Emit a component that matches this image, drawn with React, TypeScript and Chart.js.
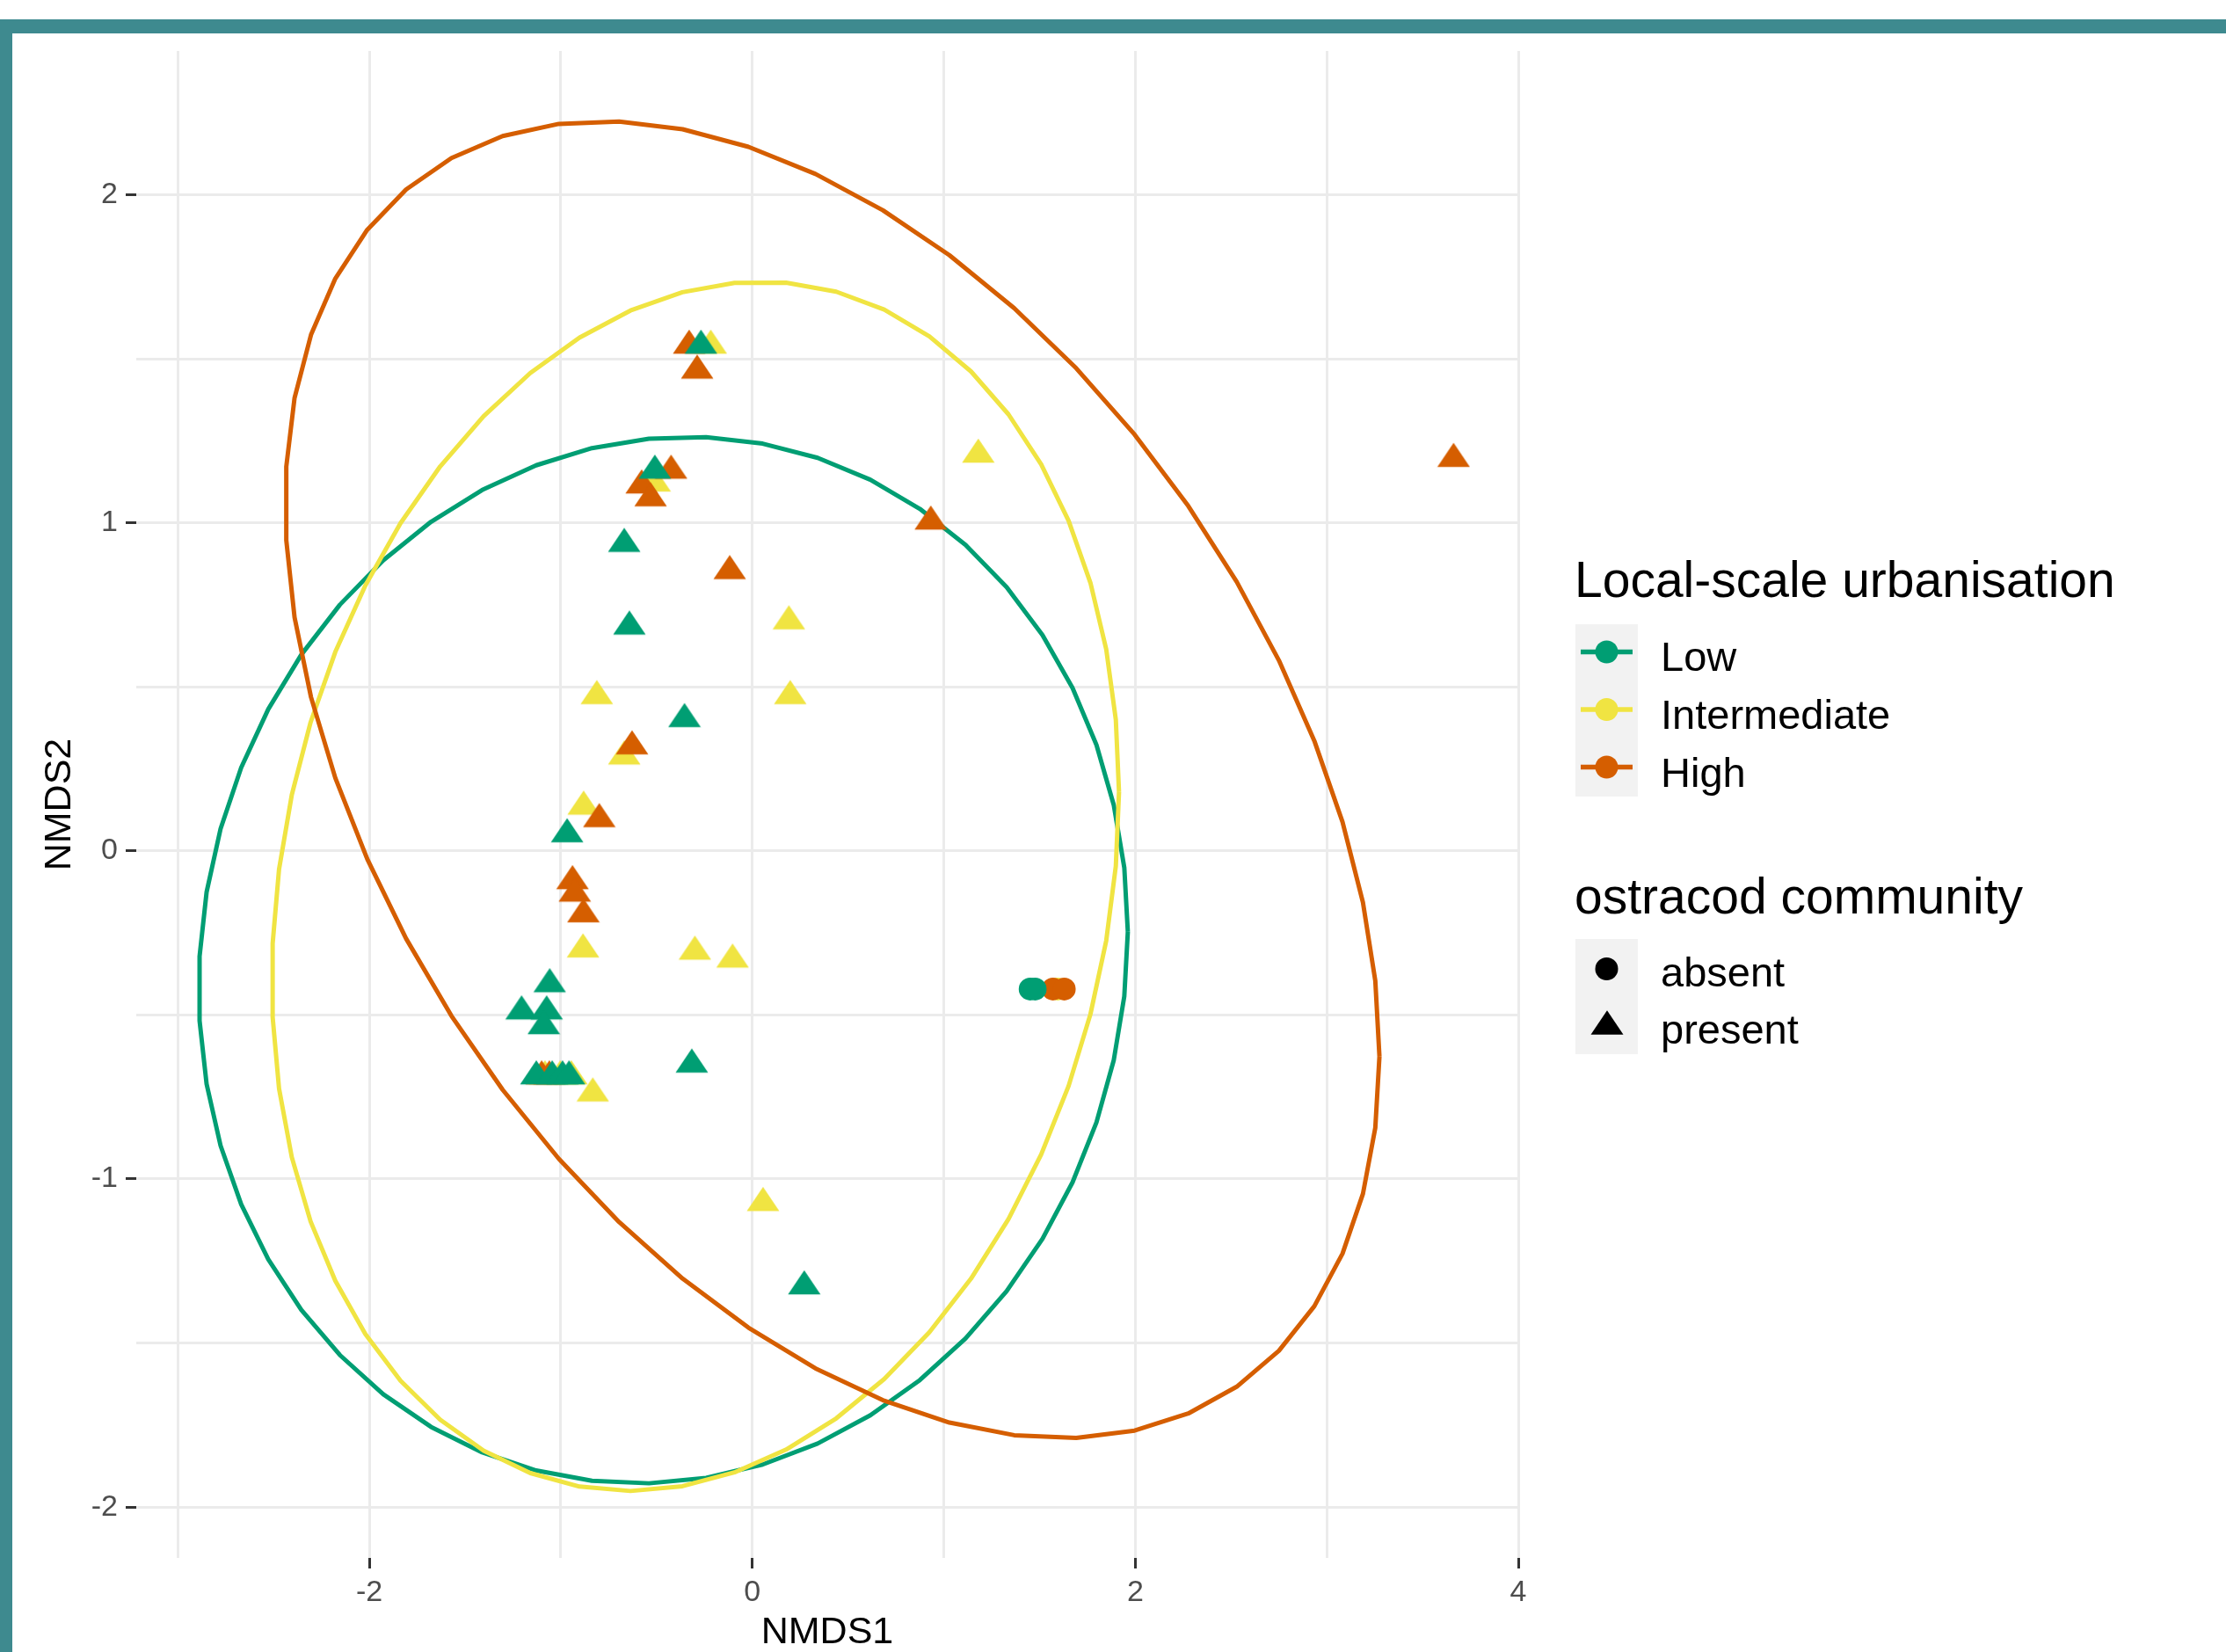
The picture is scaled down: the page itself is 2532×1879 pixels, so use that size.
import React, { useEffect, useRef } from 'react';
import { Chart, registerables } from 'chart.js';

Chart.register(...registerables);

// ---------- data ----------
const groups = ['Low', 'Intermediate', 'High'];
const groupColors = ['#009E73', '#F0E442', '#D55E00'];
const communityLevels = ['absent', 'present'];

// ostracod community present (triangles)
const lowPresentX = [-0.268, -0.509, -0.669, -0.642, -0.354, -0.967, -1.058, -1.205, -1.074, -1.089, -0.316, -1.128, -1.045, -0.991, -0.957, 0.271];
const lowPresentY = [1.54, 1.159, 0.936, 0.684, 0.402, 0.051, -0.406, -0.489, -0.489, -0.534, -0.651, -0.687, -0.687, -0.687, -0.687, -1.327];
const intPresentX = [-0.217, -0.51, 0.191, -0.812, 0.198, -0.669, -0.881, -0.884, -0.3, -0.103, -1.083, -1.003, -0.945, -0.833, 1.18, 0.056];
const intPresentY = [1.54, 1.12, 0.7, 0.472, 0.472, 0.288, 0.135, -0.3, -0.307, -0.331, -0.687, -0.687, -0.687, -0.739, 1.208, -1.073];
const highPresentX = [-0.33, -0.288, -0.424, -0.578, -0.531, -0.118, -0.628, -0.799, -0.939, -0.927, -0.882, -1.1, -1.06, 0.932, 3.662];
const highPresentY = [1.54, 1.464, 1.159, 1.114, 1.075, 0.853, 0.319, 0.097, -0.092, -0.13, -0.193, -0.687, -0.687, 1.004, 1.195];

// ostracod community absent (circles)
const lowAbsentX = [1.451, 1.477];
const lowAbsentY = [-0.421, -0.421];
const intAbsentX = [1.595];
const intAbsentY = [-0.421];
const highAbsentX = [1.57, 1.629];
const highAbsentY = [-0.421, -0.421];

// stat_ellipse parameters per group (centre, sd of x, sd of y, covariance)
const ellipseCenterX = [-0.465, -0.297, 0.418];
const ellipseCenterY = [-0.333, -0.108, 0.217];
const ellipseSdX = [2.426, 2.212, 2.857];
const ellipseSdY = [1.595, 1.843, 2.007];
const ellipseCovXY = [0.21, 0.635, -2.41];
const ellipseSegments = 51;

// axes
const xGridValues = [-3, -2, -1, 0, 1, 2, 3, 4];
const xTickLabels = [-2, 0, 2, 4];
const yGridValues = [-2, -1.5, -1, -0.5, 0, 0.5, 1, 1.5, 2];
const yTickLabels = [-2, -1, 0, 1, 2];
const xMin = -3.217;
const xMax = 4.0;
const yMin = -2.155;
const yMax = 2.438;

const FONT = "'Liberation Sans', Arial, Helvetica, sans-serif";
const CANVAS_W = 1760;
const CANVAS_H = 1879;

function ellipsePath(i: number) {
  // same construction as ggplot2::stat_ellipse: unit circle %*% chol(shape)
  const a = ellipseSdX[i];
  const b = ellipseCovXY[i] / a;
  const c = Math.sqrt(ellipseSdY[i] * ellipseSdY[i] - b * b);
  const pts: { x: number; y: number }[] = [];
  for (let k = 0; k <= ellipseSegments; k++) {
    const t = (2 * Math.PI * k) / ellipseSegments;
    pts.push({ x: ellipseCenterX[i] + a * Math.cos(t), y: ellipseCenterY[i] + b * Math.cos(t) + c * Math.sin(t) });
  }
  return pts;
}

function makeTriangle(color: string) {
  const c = document.createElement('canvas');
  c.width = 38;
  c.height = 38;
  const ctx = c.getContext('2d')!;
  const w = 37;
  const h = 27.5;
  const cx = 19;
  const cy = 19;
  ctx.fillStyle = color;
  ctx.beginPath();
  ctx.moveTo(cx, cy - (2 * h) / 3);
  ctx.lineTo(cx + w / 2, cy + h / 3);
  ctx.lineTo(cx - w / 2, cy + h / 3);
  ctx.closePath();
  ctx.fill();
  return c;
}

function zip(xs: number[], ys: number[]) {
  return xs.map((x, k) => ({ x, y: ys[k] }));
}

export default function App() {
  const ref = useRef<HTMLCanvasElement>(null);

  useEffect(() => {
    document.body.style.margin = '0';
    const canvas = ref.current!;
    const tri = groupColors.map(makeTriangle);
    const presentX = [lowPresentX, intPresentX, highPresentX];
    const presentY = [lowPresentY, intPresentY, highPresentY];
    const absentX = [lowAbsentX, intAbsentX, highAbsentX];
    const absentY = [lowAbsentY, intAbsentY, highAbsentY];
    const pointOrder = [1, 3, 2];

    const datasets: any[] = [];
    groups.forEach((g, i) => {
      datasets.push({
        label: g + ' ellipse',
        data: ellipsePath(i),
        showLine: true,
        borderColor: groupColors[i],
        borderWidth: 5,
        borderJoinStyle: 'round',
        pointRadius: 0,
        fill: false,
        tension: 0,
        order: 12 - i,
      });
    });
    groups.forEach((g, i) => {
      datasets.push({
        label: g + ' present',
        data: zip(presentX[i], presentY[i]),
        showLine: false,
        pointStyle: tri[i],
        pointRadius: 13,
        order: pointOrder[i],
      });
      datasets.push({
        label: g + ' absent',
        data: zip(absentX[i], absentY[i]),
        showLine: false,
        pointStyle: 'circle',
        pointRadius: 13,
        pointBackgroundColor: groupColors[i],
        pointBorderColor: groupColors[i],
        pointBorderWidth: 0,
        order: pointOrder[i],
      });
    });

    const chart = new Chart(canvas, {
      type: 'scatter',
      data: { datasets },
      options: {
        responsive: false,
        animation: false,
        events: [],
        layout: { padding: { top: 58, right: CANVAS_W - 1727, left: 0, bottom: 0 } },
        plugins: { legend: { display: false }, tooltip: { enabled: false } },
        scales: {
          x: {
            type: 'linear',
            min: xMin,
            max: xMax,
            afterBuildTicks: (s: any) => {
              s.ticks = xGridValues.map((v) => ({ value: v }));
            },
            afterFit: (s: any) => {
              s.height = CANVAS_H - 1772;
            },
            ticks: {
              autoSkip: false,
              maxRotation: 0,
              padding: 7,
              color: '#4D4D4D',
              font: { family: FONT, size: 34 },
              callback: (v: any) => (xTickLabels.includes(Number(v)) ? String(v) : ''),
            },
            grid: {
              color: '#EBEBEB',
              lineWidth: 3,
              tickLength: 12,
              tickColor: '#333333',
              tickWidth: (ctx: any) => (ctx.tick && xTickLabels.includes(ctx.tick.value) ? 3 : 0),
            },
            border: { display: false },
            title: {
              display: true,
              text: 'NMDS1',
              color: '#000000',
              font: { family: FONT, size: 43, lineHeight: 1 },
              padding: { top: 0, bottom: 0.5 },
            },
          },
          y: {
            type: 'linear',
            min: yMin,
            max: yMax,
            afterBuildTicks: (s: any) => {
              s.ticks = yGridValues.map((v) => ({ value: v }));
            },
            afterFit: (s: any) => {
              s.width = 155;
            },
            ticks: {
              autoSkip: false,
              padding: 9,
              color: '#4D4D4D',
              font: { family: FONT, size: 34 },
              callback: (v: any) => (yTickLabels.includes(Number(v)) ? String(v) : ''),
            },
            grid: {
              color: '#EBEBEB',
              lineWidth: 3,
              tickLength: 12,
              tickColor: '#333333',
              tickWidth: (ctx: any) => (ctx.tick && yTickLabels.includes(ctx.tick.value) ? 3 : 0),
            },
            border: { display: false },
            title: {
              display: true,
              text: 'NMDS2',
              color: '#000000',
              font: { family: FONT, size: 43, lineHeight: 1.2 },
              padding: { top: 42.5, bottom: 0 },
            },
          },
        },
      } as any,
    });
    return () => chart.destroy();
  }, []);

  const labelStyle = (top: number, left: number, size: number): React.CSSProperties => ({
    position: 'absolute',
    top,
    left,
    fontFamily: FONT,
    fontSize: size,
    lineHeight: 1,
    color: '#000',
    whiteSpace: 'nowrap',
  });

  const keyRows1 = [741.5, 807, 872.5];
  const keyRows2 = [1102, 1167.5];
  const labelBase1 = [763, 828.5, 894.5];
  const labelBase2 = [1121.7, 1187];
  const TITLE = 57;
  const LAB = 47;

  return (
    <div style={{ position: 'absolute', left: 0, top: 0, width: 2532, height: 1879, background: '#fff', overflow: 'hidden' }}>
      <canvas ref={ref} width={CANVAS_W} height={CANVAS_H} style={{ position: 'absolute', left: 0, top: 0, width: CANVAS_W, height: CANVAS_H }} />
      {/* frame */}
      <div style={{ position: 'absolute', left: 0, top: 22, width: 2532, height: 16, background: '#3E8A8F' }} />
      <div style={{ position: 'absolute', left: 0, top: 22, width: 14, height: 1857, background: '#3E8A8F' }} />
      {/* legend keys */}
      <svg width={2532} height={1879} style={{ position: 'absolute', left: 0, top: 0, pointerEvents: 'none' }}>
        <rect x={1792} y={710} width={71} height={196} fill="#F2F2F2" />
        {groups.map((g, i) => (
          <g key={g}>
            <line x1={1798} x2={1857} y1={keyRows1[i]} y2={keyRows1[i]} stroke={groupColors[i]} strokeWidth={5.5} />
            <circle cx={1827.5} cy={keyRows1[i]} r={13} fill={groupColors[i]} />
          </g>
        ))}
        <rect x={1792} y={1068} width={71} height={131} fill="#F2F2F2" />
        <circle cx={1827.5} cy={keyRows2[0]} r={13} fill="#000" />
        <polygon
          points={`${1828},${keyRows2[1] - 18.3} ${1828 + 18.5},${keyRows2[1] + 9.2} ${1828 - 18.5},${keyRows2[1] + 9.2}`}
          fill="#000"
        />
      </svg>
      {/* legend text */}
      <div style={labelStyle(679 - 0.8465 * TITLE, 1791, TITLE)}>Local-scale urbanisation</div>
      {groups.map((g, i) => (
        <div key={g} style={labelStyle(labelBase1[i] - 0.8465 * LAB, 1889, LAB)}>{g}</div>
      ))}
      <div style={labelStyle(1039.5 - 0.8465 * TITLE, 1791, TITLE)}>ostracod community</div>
      {communityLevels.map((c, i) => (
        <div key={c} style={labelStyle(labelBase2[i] - 0.8465 * LAB, 1889, LAB)}>{c}</div>
      ))}
    </div>
  );
}
